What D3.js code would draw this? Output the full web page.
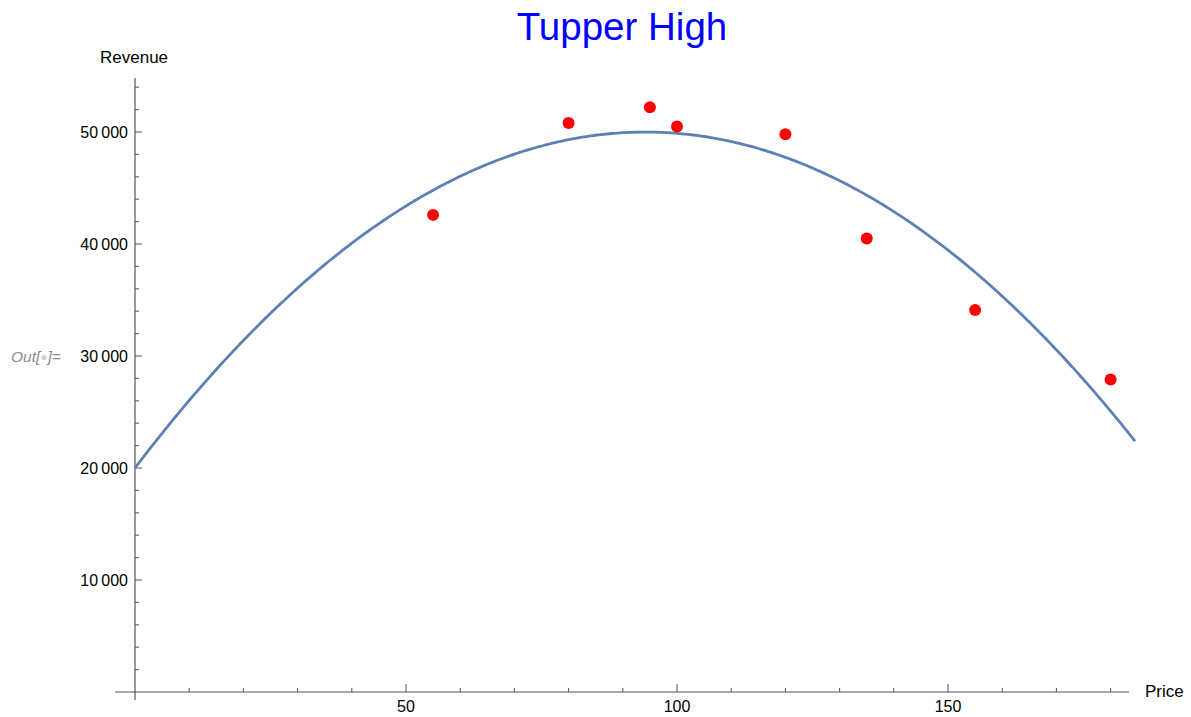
<!DOCTYPE html>
<html>
<head>
<meta charset="utf-8">
<script src="https://cdn.jsdelivr.net/npm/d3@7"></script>
<style>
  html, body { margin: 0; padding: 0; background: #fff; }
  svg { display: block; font-family: "Liberation Sans", Arial, sans-serif; }
</style>
</head>
<body>
<svg id="chart" width="1191" height="717"></svg>
<script>
// ---- data ----
const prices   = [55, 80, 95, 100, 120, 135, 155, 180];
const revenues = [42600, 50800, 52200, 50500, 49800, 40500, 34100, 27900];
// fitted quadratic revenue model: c0 + c1*p + c2*p^2
const fitCoefficients = [20000, 637.0, -3.382];
const xTickValues = [50, 100, 150];
const yTickValues = [10000, 20000, 30000, 40000, 50000];
const titleText = "Tupper High";

// ---- layout ----
const svg = d3.select("#chart");
const x = d3.scaleLinear().domain([0, 184.5]).range([135, 1135]);
const y = d3.scaleLinear().domain([0, 50000]).range([692, 132]);

const fmt = v => d3.format(",")(v).replace(/,/g, "\u2009");

// axes lines
svg.append("line").attr("x1", 115).attr("x2", 1129).attr("y1", y(0)).attr("y2", y(0))
  .attr("stroke", "#555").attr("stroke-width", 1.2);
svg.append("line").attr("x1", x(0)).attr("x2", x(0)).attr("y1", 78).attr("y2", 700)
  .attr("stroke", "#555").attr("stroke-width", 1.2);

// x ticks
const xMinor = d3.range(10, 184, 10).filter(v => v % 50 !== 0);
svg.append("g").selectAll("line").data(xMinor).join("line")
  .attr("x1", d => x(d)).attr("x2", d => x(d)).attr("y1", y(0)).attr("y2", y(0) - 4)
  .attr("stroke", "#555").attr("stroke-width", 1);
svg.append("g").selectAll("line").data(xTickValues).join("line")
  .attr("x1", d => x(d)).attr("x2", d => x(d)).attr("y1", y(0)).attr("y2", y(0) - 8)
  .attr("stroke", "#555").attr("stroke-width", 1);
svg.append("g").selectAll("text").data(xTickValues).join("text")
  .attr("x", d => x(d)).attr("y", 712).attr("text-anchor", "middle")
  .attr("font-size", 16).attr("fill", "#000").text(d => d);

// y ticks
const yMinor = d3.range(2000, 55000, 2000).filter(v => v % 10000 !== 0);
svg.append("g").selectAll("line").data(yMinor).join("line")
  .attr("x1", x(0)).attr("x2", x(0) + 4).attr("y1", d => y(d)).attr("y2", d => y(d))
  .attr("stroke", "#555").attr("stroke-width", 1);
svg.append("g").selectAll("line").data(yTickValues).join("line")
  .attr("x1", x(0)).attr("x2", x(0) + 7).attr("y1", d => y(d)).attr("y2", d => y(d))
  .attr("stroke", "#555").attr("stroke-width", 1);
svg.append("g").selectAll("text").data(yTickValues).join("text")
  .attr("x", 128).attr("y", d => y(d)).attr("dy", "0.36em").attr("text-anchor", "end")
  .attr("font-size", 16).attr("fill", "#000").text(d => fmt(d));

// axis labels
svg.append("text").attr("x", 100).attr("y", 63).attr("font-size", 17).attr("fill", "#000").text("Revenue");
svg.append("text").attr("x", 1145).attr("y", 697).attr("font-size", 17).attr("fill", "#000").text("Price");

// Out[] label
const out = svg.append("text").attr("x", 11).attr("y", 362).attr("font-size", 15.5)
  .attr("font-style", "italic").attr("fill", "#8c8c8c");
out.append("tspan").text("Out[");
out.append("tspan").attr("font-size", 12).attr("font-style", "normal").attr("fill", "#cfcfcf").attr("dy", -1).text("\u25CF");
out.append("tspan").attr("dy", 1).text("]=");

// fitted curve
const model = p => fitCoefficients[0] + fitCoefficients[1] * p + fitCoefficients[2] * p * p;
const curvePts = d3.range(0, 184.5 + 0.01, 0.5).map(p => [p, model(p)]);
svg.append("path").datum(curvePts)
  .attr("d", d3.line().x(d => x(d[0])).y(d => y(d[1])))
  .attr("fill", "none").attr("stroke", "#5E81B5").attr("stroke-width", 2.8);

// points
svg.append("g").selectAll("circle").data(prices.map((p, i) => [p, revenues[i]])).join("circle")
  .attr("cx", d => x(d[0])).attr("cy", d => y(d[1])).attr("r", 6).attr("fill", "#FF0000");

// title
svg.append("text").attr("x", 622).attr("y", 40).attr("text-anchor", "middle")
  .attr("font-size", 38.5).attr("fill", "#0000FF").text(titleText);
</script>
</body>
</html>
